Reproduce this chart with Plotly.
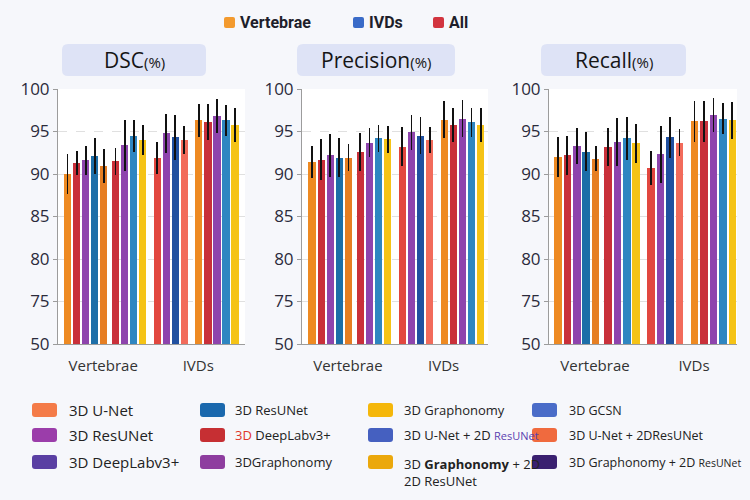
import plotly.graph_objects as go

# ---------------- data ----------------
metrics = ["DSC", "Precision", "Recall"]
categories = ["Vertebrae", "IVDs"]
group_sizes = [5, 4, 4, 5]
y_tick_labels = [50, 75, 80, 85, 90, 95, 100]

dsc_vals = [90.0, 91.3, 91.6, 92.1, 91.0, 91.5, 93.4, 94.5, 94.0,
            91.9, 94.8, 94.3, 94.0, 96.3, 96.1, 96.8, 96.3, 95.8]
dsc_err = [2.3, 1.4, 1.7, 2.1, 2.0, 1.6, 3.0, 1.9, 1.8,
           1.9, 2.3, 2.6, 1.6, 1.9, 2.1, 2.0, 1.8, 2.0]
prec_vals = [91.4, 91.7, 92.2, 91.9, 91.9, 92.6, 93.7, 94.2, 94.1,
             93.2, 94.9, 94.5, 94.0, 96.4, 95.8, 96.5, 96.1, 95.8]
prec_err = [1.9, 2.4, 2.5, 2.3, 1.6, 2.2, 1.7, 1.6, 1.6,
            2.3, 2.1, 2.2, 1.5, 2.2, 2.0, 2.2, 1.7, 2.0]
rec_vals = [92.0, 92.2, 93.3, 92.6, 91.8, 93.2, 93.8, 94.2, 93.6,
            90.7, 92.3, 94.3, 93.7, 96.2, 96.2, 97.0, 96.5, 96.3]
rec_err = [2.4, 2.3, 2.1, 2.3, 1.5, 2.2, 2.8, 2.5, 2.3,
           2.0, 3.4, 2.4, 1.6, 2.4, 2.4, 2.0, 1.8, 2.2]

top_legend_labels = ["Vertebrae", "IVDs", "All"]
bottom_legend_labels = [
    ["3D U-Net", "3D ResUNet", "3D Graphonomy", "3D GCSN"],
    ["3D ResUNet", "<span style='color:#E0352B'>3D</span> DeepLabv3+",
     "3D U-Net + 2D <span style='color:#5B3FB0;font-size:11px'>ResUNet</span>",
     "3D U-Net + 2DResUNet"],
    ["3D DeepLabv3+", "3DGraphonomy", "3D <b>Graphonomy</b> + 2D<br>2D ResUNet",
     "3D Graphonomy + 2D <span style='font-size:10.5px'>ResUNet</span>"],
]

# ---------------- styles ----------------
ORANGE, RED, PURPLE = "#EE8A22", "#C9303A", "#8E44AD"
BLUE1, BLUE2, YELLOW = "#1C6EA8", "#2E86C1", "#F5C316"
RED2, DBLUE, SALMON, ORANGE2 = "#E2473F", "#2050A0", "#F26B5B", "#E67E22"
bar_colors = [ORANGE, RED, PURPLE, BLUE1, ORANGE2,
              RED, PURPLE, BLUE2, YELLOW,
              RED2, PURPLE, DBLUE, SALMON,
              ORANGE, RED, PURPLE, BLUE2, YELLOW]
top_legend_colors = ["#F39A2E", "#3A6BC8", "#D2343F"]
bottom_legend_colors = [
    ["#F47B48", "#1A68AD", "#F5B70A", "#4A6CC8"],
    ["#9B3DAA", "#C62F33", "#4560C0", "#F06A3E"],
    ["#5A3FA3", "#8E3D9F", "#EBA80C", "#3A2070"],
]

W, H = 750, 500
extra_gaps = [0.0, 0.3, 0.6, 0.6]
positions = []
cur = 0.0
for gi, n in enumerate(group_sizes):
    cur += extra_gaps[gi]
    for k in range(n):
        positions.append(cur)
        cur += 1.0
split = group_sizes[0] + group_sizes[1]
cat_ticks = [sum(positions[:split]) / split - 0.2,
             sum(positions[split:]) / (len(positions) - split) + 0.2]

y_bottom = 70  # broken axis: "50" drawn where 70 would be
tickvals = [y_bottom if t == 50 else t for t in y_tick_labels]

panel_px = [(58, 245, [-1.06, 19.6]), (302, 488, [-1.1, 19.3]), (549, 737, [-0.95, 19.0])]
ydom = [1 - 344 / H, 1 - 89 / H]

fig = go.Figure()
series = [(dsc_vals, dsc_err), (prec_vals, prec_err), (rec_vals, rec_err)]
for i, (vals, errs) in enumerate(series):
    fig.add_trace(go.Bar(
        x=positions, y=vals, width=0.8,
        marker=dict(color=bar_colors, line=dict(width=0)),
        error_y=dict(type="data", array=errs, visible=True, color="#111111",
                     thickness=1.8, width=0),
        xaxis="x" if i == 0 else f"x{i+1}",
        yaxis="y" if i == 0 else f"y{i+1}",
        showlegend=False, hoverinfo="skip",
    ))

layout = dict(
    width=W, height=H, margin=dict(l=0, r=0, t=0, b=0, pad=0, autoexpand=False),
    paper_bgcolor="#F6F7FB", plot_bgcolor="#FFFFFF",
    font=dict(family="Open Sans", color="#222"),
    showlegend=False, bargap=0,
)
for i, (x0, x1, xr) in enumerate(panel_px):
    xa = "xaxis" if i == 0 else f"xaxis{i+1}"
    ya = "yaxis" if i == 0 else f"yaxis{i+1}"
    anchor_x = "x" if i == 0 else f"x{i+1}"
    anchor_y = "y" if i == 0 else f"y{i+1}"
    layout[xa] = dict(domain=[x0 / W, x1 / W], range=xr, anchor=anchor_y,
                      tickvals=cat_ticks, ticktext=categories, ticks="",
                      ticklabelstandoff=8,
                      showline=True, linecolor="#9C9C9C", linewidth=1,
                      showgrid=False, zeroline=False, automargin=False,
                      tickfont=dict(size=15, color="#333", family="Open Sans"))
    layout[ya] = dict(domain=ydom, range=[y_bottom, 100], anchor=anchor_x,
                      tickvals=tickvals, ticktext=[str(t) for t in y_tick_labels],
                      ticks="outside", ticklen=4, tickcolor="#9C9C9C",
                      showline=True, linecolor="#9C9C9C", linewidth=1,
                      showgrid=True, gridcolor="#E0E0E0", griddash="dash",
                      zeroline=False, automargin=False,
                      tickfont=dict(size=17, color="#2B2B3B", family="Open Sans"))
fig.update_layout(**layout)


def rrect(x0, y0, x1, y1, r):
    def P(x, y):
        return f"{x / W:.5f},{1 - y / H:.5f}"
    return (f"M {P(x0 + r, y0)} L {P(x1 - r, y0)} Q {P(x1, y0)} {P(x1, y0 + r)} "
            f"L {P(x1, y1 - r)} Q {P(x1, y1)} {P(x1 - r, y1)} "
            f"L {P(x0 + r, y1)} Q {P(x0, y1)} {P(x0, y1 - r)} "
            f"L {P(x0, y0 + r)} Q {P(x0, y0)} {P(x0 + r, y0)} Z")


shapes = []
annotations = []

# panel title boxes
title_boxes = [(62, 206), (297, 455), (541, 686)]
for (bx0, bx1), m in zip(title_boxes, metrics):
    shapes.append(dict(type="path", xref="paper", yref="paper",
                       path=rrect(bx0, 44, bx1, 76, 6),
                       fillcolor="#DEE3F6", line=dict(width=0), layer="below"))
    annotations.append(dict(x=(bx0 + bx1) / 2 / W, y=1 - 60 / H, xref="paper", yref="paper",
                            text=f"<span style='font-size:21px'>{m}</span><span style='font-size:15px'>(%)</span>",
                            showarrow=False, xanchor="center", yanchor="middle",
                            font=dict(family="Open Sans", color="#151515")))

# top legend
top_x = [224, 353, 433]
for tx, lab, col in zip(top_x, top_legend_labels, top_legend_colors):
    shapes.append(dict(type="path", xref="paper", yref="paper",
                       path=rrect(tx, 17, tx + 11, 28, 2),
                       fillcolor=col, line=dict(width=0)))
    annotations.append(dict(x=(tx + 14) / W, y=1 - 22.5 / H, xref="paper", yref="paper",
                            text=f"<b>{lab}</b>", showarrow=False,
                            xanchor="left", yanchor="middle",
                            font=dict(family="Roboto", size=16, color="#1E1E2A")))

# bottom legend
sw_x = [32, 200, 368, 532]
txt_x = [67, 233, 402, 567]
row_y = [410, 435, 462]
txt_size = [15, 13, 13, 12.5]
for r, yy in enumerate(row_y):
    for c in range(4):
        shapes.append(dict(type="path", xref="paper", yref="paper",
                           path=rrect(sw_x[c], yy - 7, sw_x[c] + 25, yy + 7, 3),
                           fillcolor=bottom_legend_colors[r][c], line=dict(width=0)))
        lab = bottom_legend_labels[r][c]
        multi = "<br>" in lab
        annotations.append(dict(x=txt_x[c] / W, y=1 - (yy - 9) / H if multi else 1 - yy / H,
                                xref="paper", yref="paper", text=lab, showarrow=False,
                                xanchor="left", yanchor="top" if multi else "middle",
                                align="left",
                                font=dict(family="Open Sans", size=txt_size[c], color="#222")))

fig.update_layout(shapes=shapes, annotations=annotations)
fig.write_html("out.html")
